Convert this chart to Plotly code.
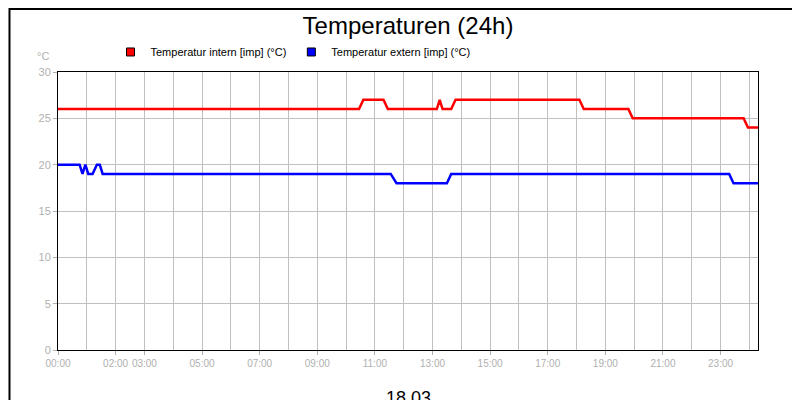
import plotly.graph_objects as go

# hours of day and temperatures
t_intern = [0, 10.45, 10.6, 11.3, 11.45, 13.15, 13.25, 13.35, 13.5, 13.65, 13.8, 18.1, 18.25, 19.8, 19.95, 23.8, 23.95, 24.3]
v_intern = [26, 26, 27, 27, 26, 26, 27, 26, 26, 26, 27, 27, 26, 26, 25, 25, 24, 24]
t_extern = [0, 0.75, 0.85, 0.95, 1.05, 1.2, 1.35, 1.45, 1.55, 11.55, 11.75, 13.5, 13.65, 23.3, 23.45, 24.3]
v_extern = [20, 20, 19, 20, 19, 19, 20, 20, 19, 19, 18, 18, 19, 19, 18, 18]
tick_hours = [0, 2, 3, 5, 7, 9, 11, 13, 15, 17, 19, 21, 23]
tick_labels = ["%02d:00" % h for h in tick_hours]
names = ["Temperatur intern [imp] (°C)", "Temperatur extern [imp] (°C)"]
colors = ["#ff0000", "#0000ff"]

fig = go.Figure()
for tx, vy, nm, c in [(t_intern, v_intern, names[0], colors[0]), (t_extern, v_extern, names[1], colors[1])]:
    fig.add_trace(go.Scatter(x=tx, y=vy, mode="lines", name=nm, showlegend=False,
                             line=dict(color=c, width=2.5)))
for nm, c in zip(names, colors):
    fig.add_trace(go.Scatter(x=[None], y=[None], mode="markers", name=nm,
                             marker=dict(symbol="square", size=8, color=c, line=dict(color="black", width=1))))

fig.update_layout(
    width=800, height=400, margin=dict(l=50, r=50, t=64, b=58, autoexpand=False),
    paper_bgcolor="white", plot_bgcolor="white",
    font=dict(family="Liberation Sans, Arial", size=11, color="black"),
    title=dict(text="Temperaturen (24h)", x=0.5, xanchor="center", y=0.955, yanchor="middle",
               font=dict(size=24, color="black"), automargin=False),
    legend=dict(orientation="h", x=0.075, y=1.072, xanchor="left", yanchor="middle",
                font=dict(size=11), bgcolor="rgba(0,0,0,0)", itemwidth=30),
    xaxis=dict(range=[0, 24.3], tickvals=tick_hours, ticktext=tick_labels, tickangle=0,
               showgrid=True, gridcolor="#c0c0c0",
               showline=True, linecolor="black", mirror=True, linewidth=1,
               tickfont=dict(color="#b0b0b0", size=10), ticks="outside", tickcolor="#b0b0b0", ticklen=4,
               minor=dict(dtick=1, tick0=0, showgrid=True, gridcolor="#c0c0c0")),
    yaxis=dict(range=[0, 30], dtick=5, showgrid=True, gridcolor="#c0c0c0",
               showline=True, linecolor="black", mirror=True, linewidth=1, zeroline=False,
               tickfont=dict(color="#b0b0b0", size=11), ticks="outside", tickcolor="#b0b0b0", ticklen=4),
    shapes=[dict(type="rect", xref="paper", yref="paper", x0=-0.0693, x1=1.0693, y0=-0.2055, y1=1.2265,
                 line=dict(color="black", width=2), fillcolor="rgba(0,0,0,0)")],
    annotations=[
        dict(text="18.03", x=0.5, y=-0.13, xref="paper", yref="paper", showarrow=False,
             yanchor="top", font=dict(size=18, color="black")),
        dict(text="°C", x=-0.01, y=1.03, xref="paper", yref="paper", showarrow=False,
             xanchor="right", yanchor="bottom", font=dict(size=11, color="#b0b0b0")),
    ],
)
fig.write_html("out.html")
